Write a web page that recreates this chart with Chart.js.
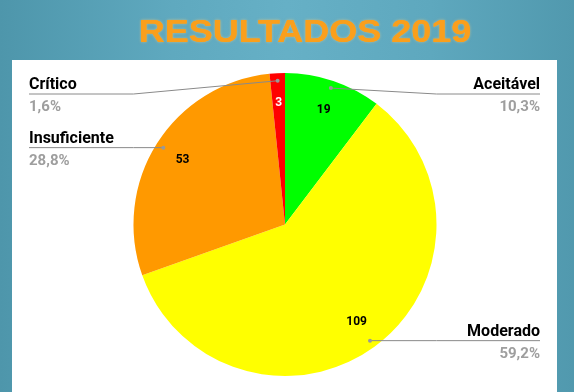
<!DOCTYPE html>
<html>
<head>
<meta charset="utf-8">
<script src="https://cdn.jsdelivr.net/npm/chart.js@4"></script>
<style>
  html, body { margin: 0; padding: 0; }
  body {
    width: 574px; height: 392px; overflow: hidden; position: relative;
    background: linear-gradient(90deg, #4e96ab 0%, #5fa9bf 30%, #66b0c6 50%, #5ea8be 75%, #5199ae 100%);
  }
  #panel { position: absolute; left: 12px; top: 60px; width: 545px; height: 340px; background: #ffffff; }
  #wrap { position: absolute; left: 0; top: 0; width: 574px; height: 392px; }
</style>
</head>
<body>
<div id="panel"></div>
<div id="wrap"><canvas id="c" width="574" height="392"></canvas></div>
<script>
const title = 'RESULTADOS 2019';
const categories = ['Aceitável', 'Moderado', 'Insuficiente', 'Crítico'];
const values = [19, 109, 53, 3];
const sliceColors = ['#00ff00', '#ffff00', '#ff9900', '#ff0000'];
const valueTextColors = ['#000000', '#000000', '#000000', '#ffffff'];

const total = values.reduce((a, b) => a + b, 0);
const pctText = v => (v / total * 100).toFixed(1).replace('.', ',') + '%';

const titlePlugin = {
  id: 'titlePlugin',
  beforeDraw(chart) {
    const ctx = chart.ctx;
    ctx.save();
    ctx.translate(305, 42);
    ctx.scale(1.16, 1);
    ctx.font = 'bold 31px "Liberation Sans", Arial, sans-serif';
    ctx.textAlign = 'center';
    ctx.textBaseline = 'alphabetic';
    ctx.shadowColor = 'rgba(255, 205, 120, 0.6)';
    ctx.shadowBlur = 3;
    ctx.fillStyle = '#fa9f1c';
    ctx.fillText(title, 0, 0);
    ctx.shadowBlur = 0;
    ctx.fillText(title, 0, 0);
    ctx.restore();
  }
};

const labelPlugin = {
  id: 'labelPlugin',
  afterDatasetsDraw(chart) {
    const ctx = chart.ctx;
    const meta = chart.getDatasetMeta(0);
    const minY = 94;
    const leftX = 29, rightX = 540;
    ctx.save();
    meta.data.forEach((arc, i) => {
      const p = arc.getProps(['x', 'y', 'startAngle', 'endAngle', 'outerRadius'], true);
      const mid = (p.startAngle + p.endAngle) / 2;
      const R = p.outerRadius;
      const lx = p.x + Math.cos(mid) * R * 0.8;
      const ly = p.y + Math.sin(mid) * R * 0.8;
      ctx.font = 'bold 12px Roboto, sans-serif';
      ctx.textAlign = 'center';
      ctx.textBaseline = 'middle';
      ctx.fillStyle = valueTextColors[i];
      ctx.fillText(String(values[i]), lx, ly);
      const dx = p.x + Math.cos(mid) * R * 0.95;
      const dy = p.y + Math.sin(mid) * R * 0.95;
      const right = Math.cos(mid) >= 0;
      const ay = Math.max(dy, minY);
      const kx = right ? p.x + R : p.x - R;
      const ex = right ? rightX : leftX;
      ctx.strokeStyle = '#8a8a8a';
      ctx.lineWidth = 1;
      ctx.beginPath();
      ctx.moveTo(dx, dy);
      if ((right && dx < kx) || (!right && dx > kx)) ctx.lineTo(kx, ay);
      ctx.lineTo(ex, ay);
      ctx.stroke();
      ctx.fillStyle = '#999999';
      ctx.beginPath();
      ctx.arc(dx, dy, 2, 0, Math.PI * 2);
      ctx.fill();
      ctx.textAlign = right ? 'right' : 'left';
      ctx.textBaseline = 'alphabetic';
      ctx.font = 'bold 16px Roboto, sans-serif';
      ctx.fillStyle = '#000000';
      ctx.fillText(categories[i], ex, ay - 5);
      ctx.font = 'bold 15px Roboto, sans-serif';
      ctx.fillStyle = '#9e9e9e';
      ctx.fillText(pctText(values[i]), ex, ay + 17);
    });
    ctx.restore();
  }
};

new Chart(document.getElementById('c'), {
  type: 'pie',
  data: {
    labels: categories,
    datasets: [{
      data: values,
      backgroundColor: sliceColors,
      borderWidth: 0
    }]
  },
  options: {
    responsive: false,
    animation: false,
    layout: { padding: { left: 133.5, right: 137.5, top: 73, bottom: 16 } },
    plugins: { legend: { display: false }, tooltip: { enabled: false } }
  },
  plugins: [titlePlugin, labelPlugin]
});
</script>
</body>
</html>
